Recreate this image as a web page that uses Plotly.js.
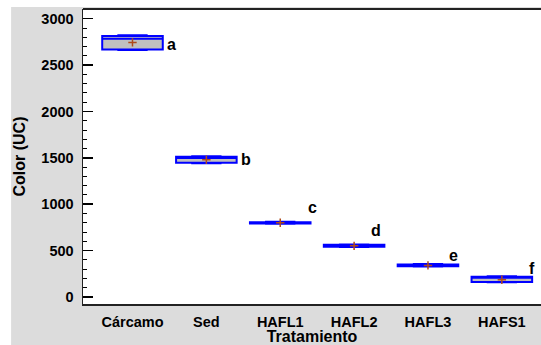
<!DOCTYPE html>
<html>
<head>
<meta charset="utf-8">
<script src="https://cdn.plot.ly/plotly-3.0.1.min.js"></script>
<style>html,body{margin:0;padding:0;background:#fff;}#chart{width:541px;height:345px;}</style>
</head>
<body>
<div id="chart"></div>
<script>
const categories = ["Cárcamo", "Sed", "HAFL1", "HAFL2", "HAFL3", "HAFS1"];
const lowerVals = [2662, 1442, 790, 538, 328, 158];
const q1Vals = [2668, 1446, 793, 541, 331, 162];
const medianVals = [2785, 1497, 800, 552, 340, 206];
const q3Vals = [2815, 1513, 806, 562, 350, 218];
const upperVals = [2822, 1518, 810, 566, 354, 222];
const meanVals = [2745, 1480, 800, 551, 340, 186];
const letters = ["a", "b", "c", "d", "e", "f"];
const letterY = [2721, 1479, 961, 713, 443, 302];
const letterOffset = [0.53, 0.54, 0.43, 0.30, 0.34, 0.41];
const yTitle = "Color (UC)";
const xTitle = "Tratamiento";

const fam = "Liberation Sans, Arial, sans-serif";
const tickFont = {family: fam, size: 14.5, color: "#000", weight: "bold"};
const titleFont = {family: fam, size: 16, color: "#000", weight: "bold"};

const traces = [
  {
    type: "box",
    x: categories,
    q1: q1Vals, median: medianVals, q3: q3Vals,
    lowerfence: lowerVals, upperfence: upperVals,
    width: 0.82,
    whiskerwidth: 0.5,
    fillcolor: "#c0c0c0",
    line: {color: "#0000ff", width: 2},
    boxpoints: false,
    hoverinfo: "skip",
    showlegend: false
  },
  {
    type: "scatter",
    mode: "markers",
    x: categories,
    y: meanVals,
    marker: {symbol: "cross-thin", size: 6, line: {color: "#b04a1a", width: 1.5}},
    hoverinfo: "skip",
    showlegend: false
  }
];

const annotations = letters.map((t, i) => ({
  x: i + letterOffset[i], y: letterY[i], xref: "x", yref: "y",
  text: t, showarrow: false, font: {family: fam, size: 16, color: "#000", weight: "bold"}
}));
annotations.push({
  x: -0.1376, y: 0.5, xref: "paper", yref: "paper", textangle: -90,
  xanchor: "center", yanchor: "middle",
  text: yTitle, showarrow: false, font: titleFont
});

const layout = {
  width: 541, height: 345,
  margin: {l: 83, r: 0, t: 9, b: 41, pad: 0},
  paper_bgcolor: "#dcdcdc",
  plot_bgcolor: "#ffffff",
  font: tickFont,
  showlegend: false,
  xaxis: {
    type: "category",
    categoryarray: categories,
    range: [-0.67, 5.53],
    showgrid: false, zeroline: false,
    showline: true, linecolor: "#222", linewidth: 1.5, mirror: false,
    ticks: "", ticklabelstandoff: 4,
    tickfont: tickFont,
    title: {text: xTitle, font: titleFont, standoff: 5}
  },
  yaxis: {
    range: [-76, 3105],
    showgrid: false, zeroline: false,
    showline: true, linecolor: "#222", linewidth: 1.5,
    tickvals: [0, 500, 1000, 1500, 2000, 2500, 3000],
    ticks: "inside", ticklen: 10, tickwidth: 1.5, tickcolor: "#000",
    minor: {dtick: 100, ticks: "inside", ticklen: 4, tickwidth: 1, tickcolor: "#000"},
    ticklabelstandoff: 5,
    tickfont: tickFont
  },
  shapes: [
    {type: "line", xref: "paper", yref: "paper", x0: 0, x1: 1, y0: 1, y1: 1, line: {color: "#222", width: 2}},
    {type: "rect", xref: "paper", yref: "paper", x0: -0.2, x1: -0.157, y0: -0.2, y1: 1.2, fillcolor: "#fff", line: {width: 0}},
    {type: "rect", xref: "paper", yref: "paper", x0: -0.2, x1: 1.01, y0: 1.007, y1: 1.2, fillcolor: "#fff", line: {width: 0}}
  ],
  annotations: annotations
};

Plotly.newPlot("chart", traces, layout, {staticPlot: true, displayModeBar: false});
</script>
</body>
</html>
